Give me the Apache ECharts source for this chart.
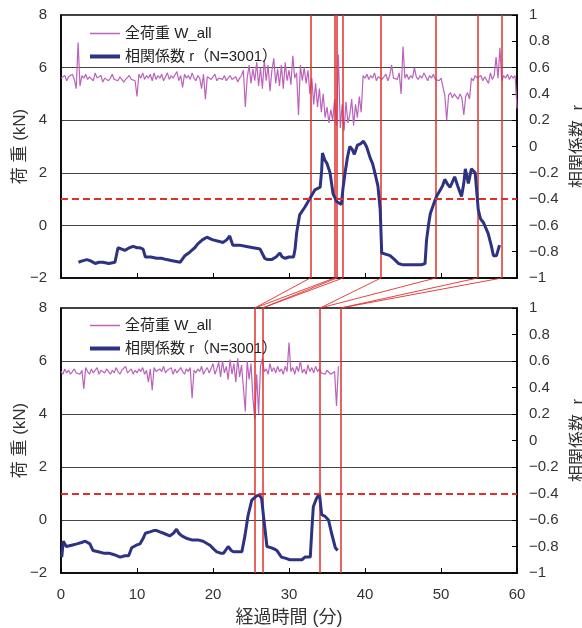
<!DOCTYPE html>
<html>
<head>
<meta charset="utf-8">
<script src="https://cdn.jsdelivr.net/npm/echarts@6/dist/echarts.min.js"></script>
<style>
html,body{margin:0;padding:0;background:#fff;}
#chart{width:582px;height:628px;}
</style>
</head>
<body>
<div id="chart"></div>
<script>
// ---- data ----
const LOAD_STEP = 0.25; // minutes between load samples
const loadTop = [
  5.6, 5.55, 5.7, 5.5,   5.65, 5.6, 5.75, 5.55,   5.2, 6.95, 5.3, 5.7,   5.6, 5.75, 5.55, 5.65,
  5.7, 5.5, 5.8, 5.6,    5.55, 5.7, 5.45, 5.6,    5.65, 5.5, 5.6, 5.75,  5.55, 5.6, 5.5, 5.65,
  5.6, 5.45, 5.55, 5.6,  5.7, 5.55, 5.6, 5.5,     4.9, 5.75, 5.6, 5.8,   5.55, 5.7, 5.6, 5.75,
  5.5, 5.8, 5.55, 5.7,   5.6, 5.75, 5.5, 5.65,    5.8, 5.55, 5.7, 5.6,   5.65, 5.85, 5.5, 5.7,
  5.25, 5.75, 5.6, 5.7,  5.55, 5.8, 5.6, 5.5,     5.7, 5.6, 5.2, 5.75,   4.8, 5.65, 5.7, 5.55,
  5.6, 5.75, 5.5, 5.6,   5.65, 5.55, 5.7, 5.5,    5.6, 5.7, 5.55, 5.6,   5.65, 5.45, 5.6, 5.7,
  5.9, 4.5, 5.6, 6.1,    5.4, 5.95, 5.5, 6.2,     5.3, 6.0, 5.2, 6.3,    5.5, 6.1, 5.1, 5.9,
  6.35, 5.4, 5.95, 5.3,  6.1, 5.2, 6.2, 5.5,      5.9, 5.35, 6.45, 5.6,  5.8, 4.2, 6.1, 5.5,
  6.0, 5.4, 5.9, 5.0,    5.6, 4.6, 5.4, 4.5,      5.2, 4.3, 5.0, 4.1,    4.5, 3.9, 4.4, 4.0,
  4.8, 3.8, 6.5, 3.7,    4.6, 3.6, 4.7, 3.9,      4.2, 4.8, 3.8, 4.6,    4.1, 4.9, 4.3, 5.7,
  5.6, 5.75, 5.55, 5.7,  5.6, 5.8, 5.5, 5.65,     5.7, 5.55, 5.6, 5.75,  5.5, 5.7, 6.1, 5.6,
  5.65, 5.55, 5.8, 5.0,  6.8, 5.6, 5.75, 5.55,    5.7, 5.6, 6.0, 5.65,   5.55, 5.7, 5.6, 5.8,
  5.65, 5.5, 5.7, 5.6,   5.75, 5.55, 5.6, 5.5,    5.6, 5.55, 4.95, 4.0,  4.95, 5.05, 4.85, 5.0,
  4.9, 4.8, 5.0, 4.85,   4.2, 4.9, 5.05, 4.8,     5.6, 5.5, 5.7, 5.6,    5.55, 5.7, 5.5, 5.65,
  5.6, 5.4, 5.8, 5.55,   5.7, 6.4, 5.6, 6.75,     5.5, 5.7, 5.6, 5.75,   5.55, 5.7, 5.6, 5.7,
  4.45
];
const loadBottom = [
  5.6, 5.5, 5.7, 5.55,   5.65, 5.5, 5.6, 5.7,     5.55, 5.6, 5.5, 5.65,  4.95, 5.75, 5.6, 5.5,
  5.7, 5.55, 5.6, 5.75,  5.5, 5.65, 5.6, 5.55,    5.7, 5.6, 5.5, 5.65,   5.55, 5.75, 5.6, 5.5,
  5.65, 5.6, 5.8, 5.55,  5.6, 5.7, 5.5, 5.65,     5.55, 5.7, 5.6, 5.75,  5.5, 5.65, 5.2, 5.7,
  4.9, 5.75, 5.6, 5.55,  5.7, 5.6, 5.8, 5.55,     5.65, 5.6, 5.75, 5.5,  5.7, 5.55, 5.6, 5.75,
  5.6, 5.5, 5.7, 5.6,    5.75, 4.6, 5.65, 5.55,   5.7, 5.6, 5.8, 5.5,    5.65, 5.75, 5.55, 5.6,
  5.9, 5.5, 5.7, 5.95,   5.4, 6.0, 5.55, 5.8,     5.3, 6.05, 5.5, 5.9,   5.2, 6.1, 5.4, 5.85,
  5.0, 4.1, 6.0, 5.3,    5.9, 4.6, 3.8, 5.5,      4.0, 5.8, 6.1, 5.6,    5.7, 5.5, 5.9, 5.6,
  5.75, 5.55, 5.8, 5.6,  5.7, 5.5, 5.8, 5.6,      6.7, 5.6, 5.75, 5.5,   5.8, 5.6, 6.0, 5.55,
  5.7, 5.5, 5.85, 5.6,   5.75, 5.55, 5.8, 5.6,    5.7, 5.55, 5.6, 5.5,   5.65, 5.6, 5.5, 5.55,
  5.6, 4.3, 5.8
];
// correlation coefficient r : [minute, r]
const rTop = [
  [2.3,-0.88],[2.8,-0.87],[3.4,-0.86],[3.9,-0.87],[4.5,-0.89],[5.0,-0.88],[5.5,-0.88],[6.3,-0.89],
  [7.1,-0.88],[7.3,-0.88],[7.5,-0.77],[8.0,-0.78],[8.4,-0.79],[9.0,-0.77],[9.5,-0.76],[10.0,-0.77],
  [10.4,-0.77],[10.8,-0.78],[11.1,-0.84],[11.8,-0.84],[12.6,-0.85],[13.2,-0.85],[13.9,-0.86],[14.8,-0.87],
  [15.7,-0.88],[16.3,-0.83],[16.8,-0.81],[17.2,-0.79],[17.6,-0.77],[18.0,-0.74],[18.6,-0.71],[19.2,-0.69],
  [19.6,-0.70],[20.0,-0.71],[20.7,-0.72],[21.3,-0.73],[21.8,-0.71],[22.2,-0.68],[22.6,-0.75],[23.5,-0.75],
  [24.4,-0.76],[25.3,-0.77],[26.2,-0.78],[26.8,-0.85],[27.2,-0.86],[27.7,-0.86],[28.3,-0.84],[28.8,-0.81],
  [29.1,-0.84],[29.5,-0.85],[30.0,-0.84],[30.6,-0.84],[30.8,-0.78],[31.0,-0.66],[31.4,-0.52],[32.1,-0.46],
  [32.8,-0.39],[33.4,-0.33],[34.1,-0.31],[34.3,-0.18],[34.4,-0.05],[34.7,-0.10],[35.0,-0.13],[35.4,-0.20],
  [35.8,-0.36],[36.3,-0.42],[36.9,-0.44],[37.1,-0.32],[37.4,-0.19],[37.7,-0.08],[38.0,0.0],[38.3,-0.02],
  [38.6,-0.06],[39.0,0.01],[39.4,0.02],[39.8,0.04],[40.2,0.0],[40.7,-0.09],[41.0,-0.13],[41.3,-0.20],
  [41.7,-0.30],[42.0,-0.48],[42.2,-0.81],[42.8,-0.82],[43.3,-0.83],[43.9,-0.86],[44.4,-0.89],[45.0,-0.90],
  [45.5,-0.90],[46.2,-0.90],[46.8,-0.90],[47.4,-0.90],[47.9,-0.89],[48.1,-0.71],[48.4,-0.58],[48.6,-0.51],
  [49.2,-0.41],[49.5,-0.37],[49.9,-0.33],[50.2,-0.30],[50.5,-0.25],[50.9,-0.29],[51.2,-0.31],[51.5,-0.27],
  [51.8,-0.23],[52.2,-0.30],[52.7,-0.38],[53.0,-0.28],[53.2,-0.17],[53.6,-0.28],[54.0,-0.17],[54.5,-0.20],
  [54.9,-0.48],[55.2,-0.55],[55.6,-0.58],[56.2,-0.66],[56.6,-0.75],[56.9,-0.83],[57.3,-0.83],[57.7,-0.75]
];
const rBottom = [
  [0.1,-0.88],[0.3,-0.76],[0.7,-0.80],[1.4,-0.79],[2.1,-0.78],[2.7,-0.77],[3.2,-0.76],[3.8,-0.78],
  [4.2,-0.83],[4.9,-0.84],[5.6,-0.85],[6.3,-0.85],[6.9,-0.86],[7.8,-0.88],[8.4,-0.87],[8.9,-0.87],
  [9.3,-0.81],[9.9,-0.79],[10.4,-0.78],[10.8,-0.74],[11.1,-0.70],[11.7,-0.69],[12.2,-0.68],[12.6,-0.68],
  [13.0,-0.69],[13.5,-0.70],[14.3,-0.72],[14.8,-0.70],[15.2,-0.67],[15.5,-0.70],[15.9,-0.72],[16.6,-0.74],
  [17.2,-0.75],[18.0,-0.75],[18.7,-0.76],[19.6,-0.79],[20.1,-0.82],[20.5,-0.84],[21.0,-0.85],[21.4,-0.85],
  [22.0,-0.80],[22.4,-0.83],[22.7,-0.84],[23.3,-0.84],[23.8,-0.84],[24.2,-0.72],[24.6,-0.57],[25.1,-0.45],
  [25.7,-0.42],[26.1,-0.41],[26.4,-0.44],[26.7,-0.60],[27.1,-0.80],[27.7,-0.81],[28.1,-0.82],[28.4,-0.83],
  [29.0,-0.88],[29.6,-0.89],[30.1,-0.90],[30.9,-0.90],[31.7,-0.90],[32.1,-0.88],[32.8,-0.88],[33.0,-0.68],
  [33.2,-0.50],[33.6,-0.44],[34.0,-0.40],[34.3,-0.56],[34.7,-0.57],[35.2,-0.60],[35.6,-0.70],[36.1,-0.81],
  [36.4,-0.83]
];
const eventsTop = [32.8, 36.0, 36.3, 37.1, 42.1, 49.3, 54.8, 58.0];
const eventsBottom = [25.5, 26.5, 34.1, 36.8];
const eventLinks = [[32.8,25.5],[36.0,25.5],[36.3,26.5],[37.1,26.5],[42.1,34.1],[49.3,34.1],[54.8,36.8],[58.0,36.8]];
const rThreshold = -0.4;
const loadName = '全荷重 W_all';
const rName = '相関係数 r（N=3001）';
const leftTitle = '荷 重 (kN)';
const rightTitle = '相関係数  r';
const xTitle = '経過時間 (分)';

// ---- chart ----
const FONT = "'Liberation Sans','Noto Sans CJK JP',sans-serif";
const PINK = '#BC62BC', NAVY = '#2E3282', RED = '#E0302C';
const fmtMinus = v => String(Math.round(v * 10) / 10).replace('-', '\u2212');
const chart = echarts.init(document.getElementById('chart'), null, {renderer: 'canvas'});

function xAxisCfg(gridIndex, showLabels) {
  return {
    type: 'value', gridIndex, min: 0, max: 60, interval: 10,
    axisLine: {show: true, onZero: false, lineStyle: {color: '#000', width: 1.5}},
    axisTick: {show: true, inside: true, length: 5, lineStyle: {color: '#000'}},
    axisLabel: {show: showLabels, fontSize: 15, color: '#333', fontFamily: FONT, margin: 14},
    splitLine: {show: false},
    name: showLabels ? xTitle : '', nameLocation: 'middle', nameGap: 36,
    nameTextStyle: {fontSize: 18, color: '#333', fontFamily: FONT}
  };
}
function leftAxisCfg(gridIndex) {
  return {
    type: 'value', gridIndex, min: -2, max: 8, interval: 2, position: 'left',
    axisLine: {show: true, lineStyle: {color: '#000', width: 1.5}},
    axisTick: {show: false},
    axisLabel: {fontSize: 15, color: '#333', fontFamily: FONT, margin: 14, formatter: fmtMinus},
    splitLine: {show: true, lineStyle: {color: '#444', width: 1}},
    name: leftTitle, nameLocation: 'middle', nameRotate: 90, nameGap: 32, nameMoveOverlap: false,
    nameTextStyle: {fontSize: 17, color: '#333', fontFamily: FONT}
  };
}
function rightAxisCfg(gridIndex) {
  return {
    type: 'value', gridIndex, min: -1, max: 1, interval: 0.2, position: 'right',
    axisLine: {show: true, lineStyle: {color: '#000', width: 1.5}},
    axisTick: {show: true, inside: true, length: 5, lineStyle: {color: '#000'}},
    axisLabel: {fontSize: 15, color: '#333', fontFamily: FONT, margin: 12, formatter: fmtMinus},
    splitLine: {show: false},
    name: rightTitle, nameLocation: 'middle', nameRotate: 90, nameGap: 45,
    nameTextStyle: {fontSize: 17, color: '#333', fontFamily: FONT}
  };
}
function legendCfg(top) {
  return {
    orient: 'vertical', left: 83, top, itemWidth: 30, itemHeight: 14, itemGap: 8,
    itemStyle: {opacity: 0},
    data: [
      {name: loadName, lineStyle: {width: 1.5, color: PINK}},
      {name: rName, lineStyle: {width: 4, color: NAVY}}
    ],
    textStyle: {fontSize: 15, color: '#222', fontFamily: FONT},
    selectedMode: false
  };
}
function vLinesSeries(events, xIdx, yIdx) {
  return {
    name: 'events', type: 'lines', coordinateSystem: 'cartesian2d', xAxisIndex: xIdx, yAxisIndex: yIdx,
    silent: true, z: 3, lineStyle: {color: RED, width: 1.5, opacity: 1},
    data: events.map(t => ({coords: [[t, -2], [t, 8]]}))
  };
}
function hLine() {
  return {
    silent: true, symbol: 'none', label: {show: false},
    lineStyle: {color: RED, width: 2, type: [7, 4]},
    data: [{yAxis: rThreshold}]
  };
}
const gridBase = {left: 61, right: 65, outerBoundsMode: 'none', containLabel: false};

const option = {
  backgroundColor: '#fff',
  animation: false,
  grid: [
    Object.assign({top: 15, height: 263, show: true, borderColor: '#000', borderWidth: 1.5, backgroundColor: 'transparent'}, gridBase),
    Object.assign({top: 308, height: 265, show: true, borderColor: '#000', borderWidth: 1.5, backgroundColor: 'transparent'}, gridBase),
    Object.assign({top: 278, height: 30, show: false}, gridBase)
  ],
  legend: [legendCfg(21), legendCfg(313)],
  xAxis: [
    xAxisCfg(0, false),
    xAxisCfg(1, true),
    {type: 'value', gridIndex: 2, min: 0, max: 60, show: false}
  ],
  yAxis: [
    leftAxisCfg(0), rightAxisCfg(0),
    leftAxisCfg(1), rightAxisCfg(1),
    {type: 'value', gridIndex: 2, min: 0, max: 1, show: false}
  ],
  series: [
    {name: loadName, type: 'line', xAxisIndex: 0, yAxisIndex: 0, symbol: 'none',
     data: loadTop.map((v, i) => [i * LOAD_STEP, v]),
     lineStyle: {color: PINK, width: 1.2}, itemStyle: {color: PINK}, z: 2},
    vLinesSeries(eventsTop, 0, 0),
    {name: rName, type: 'line', xAxisIndex: 0, yAxisIndex: 1, symbol: 'none', data: rTop,
     lineStyle: {color: NAVY, width: 3}, itemStyle: {color: NAVY}, z: 4,
     markLine: hLine()},
    {name: loadName, type: 'line', xAxisIndex: 1, yAxisIndex: 2, symbol: 'none',
     data: loadBottom.map((v, i) => [i * LOAD_STEP, v]),
     lineStyle: {color: PINK, width: 1.2}, itemStyle: {color: PINK}, z: 2},
    vLinesSeries(eventsBottom, 1, 2),
    {name: rName, type: 'line', xAxisIndex: 1, yAxisIndex: 3, symbol: 'none', data: rBottom,
     lineStyle: {color: NAVY, width: 3}, itemStyle: {color: NAVY}, z: 4,
     markLine: hLine()},
    {name: 'links', type: 'lines', coordinateSystem: 'cartesian2d', xAxisIndex: 2, yAxisIndex: 4,
     silent: true, lineStyle: {color: RED, width: 1, opacity: 0.9},
     data: eventLinks.map(p => ({coords: [[p[0], 1], [p[1], 0]]}))}
  ]
};
chart.setOption(option);
</script>
</body>
</html>
